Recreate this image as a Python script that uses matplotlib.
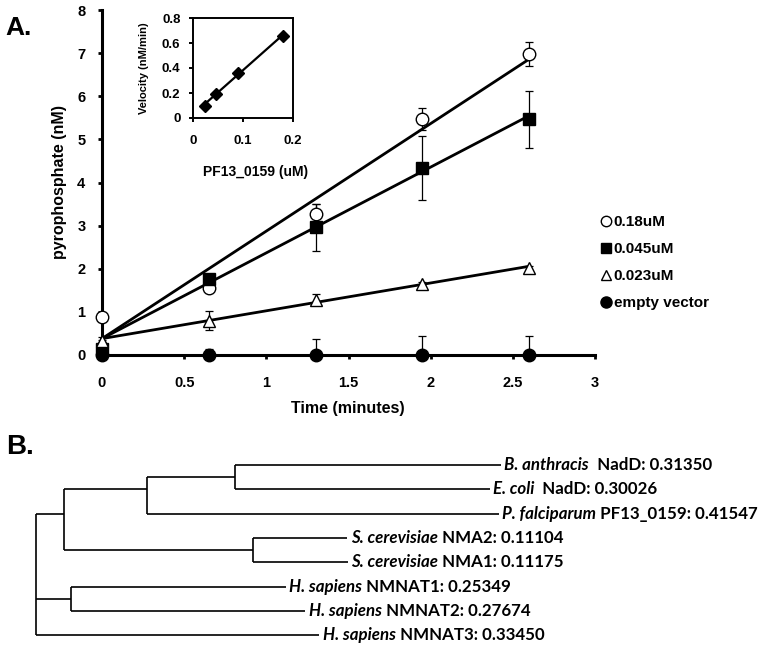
import numpy as np
import matplotlib
matplotlib.use("Agg")
from matplotlib import pyplot as plt
from matplotlib.lines import Line2D

plt.rcParams['font.family'] = ['Liberation Sans', 'DejaVu Sans']
plt.rcParams['font.weight'] = 'bold'

# ---- panel A data ----
time_min = [0, 0.65, 1.3, 1.95, 2.6]
ppi_018 = [0.88, 1.55, 3.27, 5.47, 6.98]
err_018 = [0.10, 0.08, 0.24, 0.25, 0.28]
ppi_045 = [0.15, 1.76, 2.96, 4.34, 5.47]
err_045 = [0.15, 0.10, 0.55, 0.74, 0.66]
ppi_023 = [0.33, 0.79, 1.28, 1.65, 2.02]
err_023 = [0.08, 0.22, 0.13, 0.05, 0.05]
ppi_empty = [0, 0, 0, 0, 0]
err_empty = [0.35, 0.14, 0.36, 0.43, 0.44]
trend_intercept = 0.38

# inset
enzyme_um = [0.023, 0.045, 0.09, 0.18]
velocity = [0.10, 0.19, 0.36, 0.66]

# ---- panel B data (phylogram) ----
node_names = ["A", "B", "C", "D", "E"]
node_parent = ["root", "A", "B", "A", "root"]
node_branch = [0.0334, 0.0975, 0.104, 0.223, 0.0413]
leaf_species = ["B. anthracis", "E. coli", "P. falciparum", "S. cerevisiae",
                "S. cerevisiae", "H. sapiens", "H. sapiens", "H. sapiens"]
leaf_gene = ["NadD", "NadD", "PF13_0159", "NMA2", "NMA1", "NMNAT1", "NMNAT2", "NMNAT3"]
leaf_parent = ["C", "C", "B", "D", "D", "E", "E", "root"]
leaf_branch = [0.31350, 0.30026, 0.41547, 0.11104, 0.11175, 0.25349, 0.27674, 0.33450]

W, H = 772, 649
fig = plt.figure(figsize=(W / 100, H / 100), dpi=100)

# ---------------- main kinetics plot ----------------
ax = fig.add_axes([102 / W, 1 - 355 / H, 493 / W, 345 / H])
t = np.array(time_min)


def trend(y):
    # least squares line with the intercept held fixed
    y = np.array(y)
    slope = np.sum(t * (y - trend_intercept)) / np.sum(t ** 2)
    return trend_intercept + slope * t


series = [
    (ppi_018, err_018, dict(marker='o', mfc='white', ms=9), True),
    (ppi_045, err_045, dict(marker='s', mfc='black', ms=8.5), True),
    (ppi_023, err_023, dict(marker='^', mfc='white', ms=8), True),
    (ppi_empty, err_empty, dict(marker='o', mfc='black', ms=9), False),
]
for y, e, mk, fit in series:
    if fit:
        ax.plot(t, trend(y), color='black', lw=2, zorder=2, clip_on=False)
    yerr = [e, e] if fit else [np.zeros(len(e)), e]
    ax.errorbar(t, y, yerr=yerr, fmt='none', ecolor='black', elinewidth=0.9,
                capsize=3, capthick=0.9, zorder=3, clip_on=False)
    ax.plot(t, y, ls='none', mec='black', mew=1, zorder=4, clip_on=False, **mk)

ax.set_xlim(0, 3)
ax.set_ylim(0, 8)
ax.set_xticks(np.arange(0, 3.01, 0.5))
ax.set_xticklabels(['0', '0.5', '1', '1.5', '2', '2.5', '3'])
ax.set_yticks(range(9))
for s in ['top', 'right']:
    ax.spines[s].set_visible(False)
for s in ['left', 'bottom']:
    ax.spines[s].set_linewidth(2.2)
ax.tick_params(axis='both', direction='out', length=3, width=2, labelsize=10.5)
ax.tick_params(axis='x', pad=12)
ax.tick_params(axis='y', pad=9)
ax.set_xlabel('Time (minutes)', fontsize=11.5, fontweight='bold', va='top')
ax.xaxis.set_label_coords(0.499, -0.133)
ax.set_ylabel('pyrophosphate (nM)', fontsize=11.5, fontweight='bold')
ax.yaxis.set_label_coords(-0.0716, 0.502)

handles = [
    Line2D([], [], ls='none', marker='o', mfc='white', mec='black', ms=7.5),
    Line2D([], [], ls='none', marker='s', mfc='black', mec='black', ms=7.5),
    Line2D([], [], ls='none', marker='^', mfc='white', mec='black', ms=7.5),
    Line2D([], [], ls='none', marker='o', mfc='black', mec='black', ms=8),
]
fig.legend(handles, ['0.18uM', '0.045uM', '0.023uM', 'empty vector'],
           loc='upper left', bbox_to_anchor=(601 / W, 1 - 215 / H),
           frameon=False, borderpad=0, borderaxespad=0, handlelength=0.7,
           handletextpad=0.12, labelspacing=0.85,
           prop=dict(family='Liberation Sans', weight='bold', size=11))

# ---------------- inset ----------------
ins = fig.add_axes([193 / W, 1 - 118 / H, 100 / W, 100 / H])
ex = np.array(enzyme_um)
k, b = np.polyfit(ex, velocity, 1)
ins.plot(ex, k * ex + b, color='black', lw=1.6, zorder=2)
ins.plot(ex, velocity, ls='none', marker='D', ms=6, mfc='black', mec='black', zorder=3)
ins.set_xlim(0, 0.2)
ins.set_ylim(0, 0.8)
ins.set_xticks([0, 0.1, 0.2])
ins.set_xticklabels(['0', '0.1', '0.2'])
ins.set_yticks([0, 0.2, 0.4, 0.6, 0.8])
ins.set_yticklabels(['0', '0.2', '0.4', '0.6', '0.8'])
for s in ins.spines.values():
    s.set_linewidth(1.4)
ins.tick_params(axis='both', direction='out', length=3, width=1.4, labelsize=9.5)
ins.tick_params(axis='x', pad=9)
ins.tick_params(axis='y', pad=6)
ins.set_xlabel('PF13_0159 (uM)', fontsize=10, fontweight='bold', va='top')
ins.xaxis.set_label_coords(0.63, -0.47)
ins.set_ylabel('Velocity (nM/min)', fontsize=8, fontweight='bold')
ins.yaxis.set_label_coords(-0.437, 0.5)

fig.text(5 / W, 1 - 35 / H, 'A.', fontsize=19, fontweight='bold', va='baseline')
fig.text(6 / W, 1 - 454 / H, 'B.', fontsize=20, fontweight='bold', va='baseline')

# ---------------- phylogram ----------------
tax = fig.add_axes([0, 0, 1, 229 / H])
tax.set_xlim(-35.7 / 848, (W - 35.7) / 848)
tax.set_ylim(7.57, -1.85)
tax.axis('off')

depth = {"root": 0.0}
for n, p, bl in zip(node_names, node_parent, node_branch):
    depth[n] = depth[p] + bl

rows = {n: [] for n in ["root"] + node_names}
for i, p in enumerate(leaf_parent):
    cur = p
    while True:
        rows[cur].append(i)
        if cur == "root":
            break
        cur = node_parent[node_names.index(cur)]
node_y = {n: (min(r) + max(r)) / 2 for n, r in rows.items()}

tree_kw = dict(color='black', lw=1.2, solid_capstyle='butt')
# horizontal branches of internal nodes
for n, p in zip(node_names, node_parent):
    tax.plot([depth[p], depth[n]], [node_y[n], node_y[n]], **tree_kw)
# vertical connectors
for n in ["root"] + node_names:
    kids = [node_y[c] for c, p in zip(node_names, node_parent) if p == n]
    kids += [i for i, p in enumerate(leaf_parent) if p == n]
    tax.plot([depth[n], depth[n]], [min(kids), max(kids)], **tree_kw)

tree_font = dict(family=['Lato', 'DejaVu Sans'], size=12.2, weight='bold')
for i, (sp, gene, p, bl) in enumerate(zip(leaf_species, leaf_gene, leaf_parent, leaf_branch)):
    x0, x1 = depth[p], depth[p] + bl
    tax.plot([x0, x1], [i, i], **tree_kw)
    lab = tax.annotate(sp, xy=(x1, i), xytext=(2.5, 0), textcoords='offset points',
                       ha='left', va='center', fontstyle='italic', **tree_font)
    gap = '  ' if gene == 'NadD' else ' '
    tax.annotate(f"{gap}{gene}: {bl:.5f}", xy=(1, 0), xycoords=lab,
                 ha='left', va='bottom', **tree_font)

fig.savefig('out.png', dpi=100)
